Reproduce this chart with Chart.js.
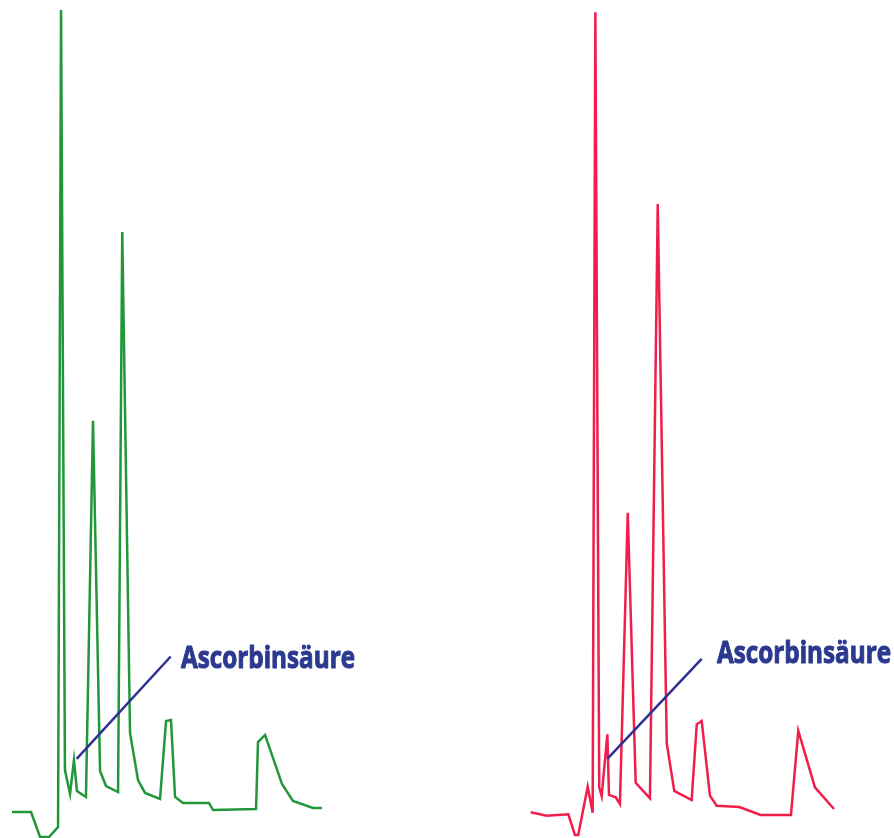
<!DOCTYPE html>
<html>
<head>
<meta charset="utf-8">
<script src="https://cdn.jsdelivr.net/npm/chart.js@4.4.1/dist/chart.umd.min.js"></script>
<style>
  html, body { margin: 0; padding: 0; background: #fff; }
  #wrap { position: relative; width: 894px; height: 838px; overflow: hidden; }
  .panel { position: absolute; top: 0; width: 447px; height: 838px; }
</style>
</head>
<body>
<div id="wrap">
  <div class="panel" style="left:0"><canvas id="greenChart" width="447" height="838"></canvas></div>
  <div class="panel" style="left:447px"><canvas id="redChart" width="447" height="838"></canvas></div>
</div>
<script>
// retention time (min) and detector signal for each chromatogram
const greenTime = [0.80, 2.07, 2.67, 3.27, 3.87, 4.07, 4.33, 4.67, 4.93, 5.13, 5.73, 6.20, 6.67, 7.07, 7.87, 8.15, 8.67, 9.20, 9.67, 10.67, 11.07, 11.40, 11.67, 12.20, 13.93, 14.20, 17.07, 17.20, 17.67, 18.80, 19.53, 20.87, 21.47];
const greenSignal = [0, 0, -3.13, -3.13, -1.88, 100.25, 5.25, 2.25, 6.5, 2.63, 1.88, 48.9, 5.13, 3.25, 2.5, 72.5, 9.88, 4.0, 2.38, 1.63, 11.38, 11.5, 1.88, 1.13, 1.13, 0.25, 0.38, 8.75, 9.63, 3.5, 1.38, 0.5, 0.5];

const redTime = [5.58, 6.65, 8.09, 8.53, 8.75, 9.38, 9.71, 9.89, 10.15, 10.31, 10.69, 10.80, 11.25, 11.53, 12.05, 12.58, 13.53, 14.05, 14.65, 15.15, 16.31, 16.65, 16.98, 17.53, 17.98, 19.49, 20.91, 22.93, 23.42, 24.53, 25.80];
const redSignal = [-0.04, -0.46, -0.29, -2.88, -2.88, 3.16, -0.09, 99.96, 3.09, 2.0, 9.71, 2.13, 1.84, 1.0, 37.4, 3.66, 1.71, 76.0, 8.59, 2.63, 1.5, 10.96, 11.38, 2.04, 0.79, 0.63, -0.38, -0.38, 10.16, 3.09, 0.38];

// label pointing at the ascorbic acid peak: line [x1, y1, x2, y2] and text anchor [x, y]
const noteText = 'Ascorbinsäure';
const greenNote = [5.11, 6.65, 11.38, 19.44];
const greenLabel = [12.07, 18.0];
const redNote = [10.69, 6.63, 16.98, 19.13];
const redLabel = [18.0, 18.63];

const toPoints = (xs, ys) => xs.map((x, i) => ({ x: x, y: ys[i] }));

// draws the pointer line and the label through the chart's scales
const notePlugin = {
  id: 'note',
  afterDatasetsDraw(chart, args, opts) {
    const { ctx, scales } = chart;
    const n = opts.coords;
    const x1 = scales.x.getPixelForValue(n[0]);
    const y1 = scales.y.getPixelForValue(n[1]);
    const x2 = scales.x.getPixelForValue(n[2]);
    const y2 = scales.y.getPixelForValue(n[3]);
    ctx.save();
    ctx.strokeStyle = '#2e3192';
    ctx.lineWidth = 2.5;
    ctx.beginPath();
    ctx.moveTo(x1, y1);
    ctx.lineTo(x2, y2);
    ctx.stroke();

    const tx = scales.x.getPixelForValue(opts.label[0]);
    const ty = scales.y.getPixelForValue(opts.label[1]);
    ctx.font = 'bold 30px "Open Sans", sans-serif';
    ctx.fillStyle = '#2b3990';
    ctx.strokeStyle = '#2b3990';
    ctx.lineWidth = 1;
    ctx.lineJoin = 'round';
    ctx.textBaseline = 'alphabetic';
    const w = ctx.measureText(noteText).width;
    ctx.translate(tx, ty);
    ctx.scale(174 / w, 1);
    ctx.fillText(noteText, 0, 0);
    ctx.strokeText(noteText, 0, 0);
    ctx.restore();
  }
};

function makeChart(id, points, color, coords, label) {
  return new Chart(document.getElementById(id), {
    type: 'scatter',
    data: {
      datasets: [{
        data: points,
        showLine: true,
        borderColor: color,
        borderWidth: 2.5,
        pointRadius: 0,
        tension: 0,
        clip: false
      }]
    },
    options: {
      responsive: false,
      animation: false,
      devicePixelRatio: 1,
      layout: { padding: 0 },
      scales: {
        x: { type: 'linear', min: 0, max: 29.8, display: false },
        y: { type: 'linear', min: -3.25, max: 101.5, display: false }
      },
      plugins: {
        legend: { display: false },
        tooltip: { enabled: false },
        note: { coords: coords, label: label }
      }
    },
    plugins: [notePlugin]
  });
}

makeChart('greenChart', toPoints(greenTime, greenSignal), '#22973a', greenNote, greenLabel);
makeChart('redChart', toPoints(redTime, redSignal), '#f01e4b', redNote, redLabel);
</script>
</body>
</html>
